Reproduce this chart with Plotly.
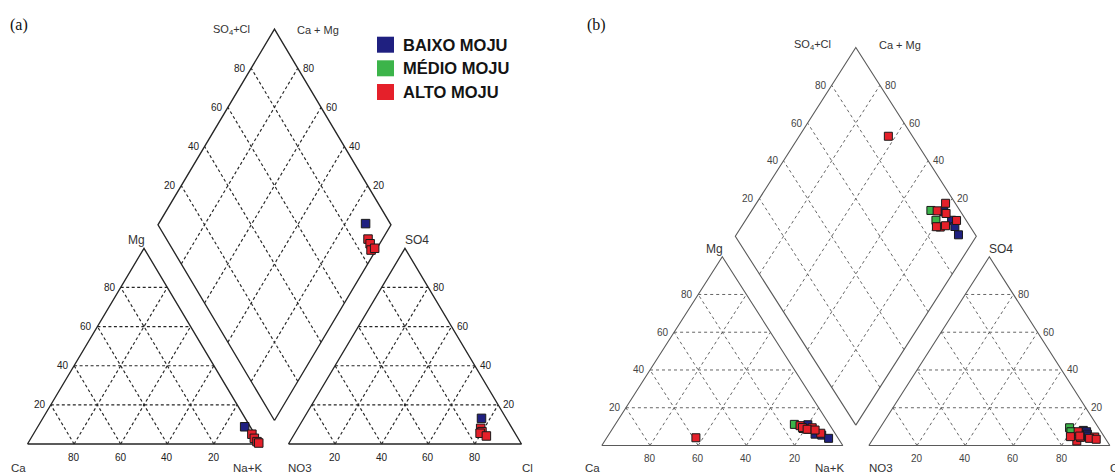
import numpy as np
import plotly.graph_objects as go

H = np.sqrt(3) / 2
TICKS = [20, 40, 60, 80]

# ---------------- sample compositions (% meq/L) ----------------
# cations as (Ca, Mg, Na+K); anions as (NO3, SO4, Cl)

# (a)
a_baixo_cations = [(2.4, 8.8, 88.8)]
a_baixo_anions = [(10.6, 13.1, 76.3)]
a_alto_cations = [(1.2, 5.0, 93.8), (1.2, 2.9, 95.9), (0.9, 1.2, 97.9), (0.5, 0.5, 99.0)]
a_alto_anions = [(13.5, 8.0, 78.5), (13.8, 6.3, 79.9), (15.0, 5.5, 79.5), (13.0, 4.1, 82.9)]

# (b)
b_baixo_cations = [(9.0, 11.0, 80.0), (8.5, 6.0, 85.5), (6.0, 5.5, 88.5), (4.0, 3.8, 92.2)]
b_baixo_anions = [(7.0, 8.0, 85.0), (6.0, 7.3, 86.7), (6.3, 6.0, 87.7), (7.0, 5.0, 88.0)]
b_medio_cations = [(14.5, 11.2, 74.3), (12.0, 9.0, 79.0)]
b_medio_anions = [(12.0, 9.4, 78.6), (12.5, 7.3, 80.2)]
b_alto_cations = [(12.5, 10.5, 77.0), (12.0, 9.5, 78.5), (10.0, 8.6, 81.4), (5.9, 6.5, 87.6),
                  (8.0, 9.4, 82.6), (10.5, 8.6, 80.9), (7.4, 8.2, 84.4), (58.9, 4.1, 37.0)]
b_alto_anions = [(9.5, 7.3, 83.2), (4.0, 4.5, 91.5), (6.5, 3.8, 89.7), (4.0, 3.3, 92.7),
                 (12.5, 2.4, 85.1), (14.0, 4.7, 81.3), (10.0, 4.3, 85.7), (10.0, 5.0, 85.0)]

GROUPS = ["BAIXO MOJU", "MÉDIO MOJU", "ALTO MOJU"]
GROUP_COLORS = ["#1f2080", "#3cb44a", "#e5202a"]

# ---------------- Piper geometry ----------------
def cation_xy(ca, mg, nak):
    t = ca + mg + nak
    return (nak + mg / 2) / t, H * mg / t


def anion_xy(no3, so4, cl, gap):
    t = no3 + so4 + cl
    return 1 + gap + (cl + so4 / 2) / t, H * so4 / t


def diamond_xy(camg, so4cl, gap):
    c, s = camg / 100, so4cl / 100
    return 1 + gap / 2 + (s - c) / 2, gap * H + H * (s + c)


W, HT = 1115, 475
PANELS = {
    "a": dict(ox=27.5, oy=444.0, sx=233.0, sy=226.0, gap=0.12, dom=(0.0, 0.5),
              line="#262626", lw=1.35, grid="#262626", gw=1.15, dash="3px,2.5px",
              tick="#222222", msize=8.5, label="(a)", lab_x=19, base_shift=-24, top_shift=-1,
              samples=[(0, a_baixo_cations, a_baixo_anions),
                       (2, a_alto_cations, a_alto_anions)]),
    "b": dict(ox=601.8, oy=445.5, sx=241.0, sy=218.0, gap=0.108, dom=(0.5, 1.0),
              line="#5a5a5a", lw=1.1, grid="#555555", gw=0.9, dash="3px,3px",
              tick="#444444", msize=8, label="(b)", lab_x=596, base_shift=-22.5, top_shift=3,
              samples=[(0, b_baixo_cations, b_baixo_anions),
                       (1, b_medio_cations, b_medio_anions),
                       (2, b_alto_cations, b_alto_anions)]),
}

fig = go.Figure()
annotations = []
layout_axes = {}

for i, (key, p) in enumerate(PANELS.items()):
    xa, ya = ("x", "y") if i == 0 else ("x2", "y2")
    g = p["gap"]

    outline_x, outline_y, grid_x, grid_y = [], [], [], []

    def seg(xs, ys, pts):
        for pt in pts:
            xs.append(pt[0])
            ys.append(pt[1])
        xs.append(None)
        ys.append(None)

    # cation triangle
    seg(outline_x, outline_y, [cation_xy(100, 0, 0), cation_xy(0, 0, 100),
                               cation_xy(0, 100, 0), cation_xy(100, 0, 0)])
    # anion triangle
    seg(outline_x, outline_y, [anion_xy(100, 0, 0, g), anion_xy(0, 0, 100, g),
                               anion_xy(0, 100, 0, g), anion_xy(100, 0, 0, g)])
    # diamond
    seg(outline_x, outline_y, [diamond_xy(0, 0, g), diamond_xy(0, 100, g),
                               diamond_xy(100, 100, g), diamond_xy(100, 0, g),
                               diamond_xy(0, 0, g)])

    for t in TICKS:
        r = 100 - t
        # cation grid
        seg(grid_x, grid_y, [cation_xy(r, t, 0), cation_xy(0, t, r)])
        seg(grid_x, grid_y, [cation_xy(r, 0, t), cation_xy(0, r, t)])
        seg(grid_x, grid_y, [cation_xy(t, 0, r), cation_xy(t, r, 0)])
        # anion grid
        seg(grid_x, grid_y, [anion_xy(r, t, 0, g), anion_xy(0, t, r, g)])
        seg(grid_x, grid_y, [anion_xy(r, 0, t, g), anion_xy(0, r, t, g)])
        seg(grid_x, grid_y, [anion_xy(t, 0, r, g), anion_xy(t, r, 0, g)])
        # diamond grid
        seg(grid_x, grid_y, [diamond_xy(t, 0, g), diamond_xy(t, 100, g)])
        seg(grid_x, grid_y, [diamond_xy(0, t, g), diamond_xy(100, t, g)])

    fig.add_trace(go.Scatter(x=grid_x, y=grid_y, mode="lines", xaxis=xa, yaxis=ya,
                             line=dict(color=p["grid"], width=p["gw"], dash=p["dash"]),
                             hoverinfo="skip", showlegend=False))
    fig.add_trace(go.Scatter(x=outline_x, y=outline_y, mode="lines", xaxis=xa, yaxis=ya,
                             line=dict(color=p["line"], width=p["lw"]),
                             hoverinfo="skip", showlegend=False))

    # samples
    for gi, cats, ans in p["samples"]:
        px, py = [], []
        for (ca, mg, nak), (no3, so4, cl) in zip(cats, ans):
            for pt in (cation_xy(ca, mg, nak), anion_xy(no3, so4, cl, g),
                       diamond_xy(100 * (ca + mg) / (ca + mg + nak),
                                  100 * (so4 + cl) / (no3 + so4 + cl), g)):
                px.append(pt[0])
                py.append(pt[1])
        fig.add_trace(go.Scatter(x=px, y=py, mode="markers", xaxis=xa, yaxis=ya,
                                 name=GROUPS[gi], showlegend=False,
                                 marker=dict(symbol="square", size=p["msize"],
                                             color=GROUP_COLORS[gi],
                                             line=dict(color="#1a1a1a", width=1))))

    # tick labels
    tfont = dict(family="Liberation Sans, Arial, sans-serif", size=10, color=p["tick"])

    def ann(pt, text, xanchor="center", yanchor="middle", xshift=0, yshift=0, font=tfont):
        annotations.append(dict(x=pt[0], y=pt[1], xref=xa, yref=ya, text=text,
                                showarrow=False, xanchor=xanchor, yanchor=yanchor,
                                xshift=xshift, yshift=yshift, font=font))

    for t in TICKS:
        r = 100 - t
        ann(cation_xy(t, 0, r), str(t), yshift=-13)
        ann(cation_xy(r, t, 0), str(t), xanchor="right", xshift=-3)
        ann(anion_xy(r, 0, t, g), str(t), yshift=-13)
        ann(anion_xy(0, t, r, g), str(t), xanchor="left", xshift=3)
        ann(diamond_xy(100, t, g), str(t), xanchor="right", xshift=-3)
        ann(diamond_xy(t, 100, g), str(t), xanchor="left", xshift=3)

    lfont = dict(family="Liberation Sans, Arial, sans-serif", size=12, color="#333333")
    bfont = dict(family="Liberation Sans, Arial, sans-serif", size=11.5, color="#333333")
    sfont = dict(family="Liberation Sans, Arial, sans-serif", size=11, color="#333333")
    top = diamond_xy(100, 100, g)
    bs = p["base_shift"]
    ann(top, "SO<sub>4</sub>+Cl", xshift=-43, yshift=p["top_shift"], font=sfont)
    ann(top, "Ca + Mg", xshift=44, yshift=p["top_shift"], font=sfont)
    ann(cation_xy(0, 100, 0), "Mg", xshift=-8, yshift=8, font=lfont)
    ann(anion_xy(0, 100, 0, g), "SO4", xshift=12, yshift=8, font=lfont)
    ann(cation_xy(100, 0, 0), "Ca", xshift=-9, yshift=bs, font=bfont)
    ann(cation_xy(0, 0, 100), "Na+K", xshift=-13, yshift=bs, font=bfont)
    ann(anion_xy(100, 0, 0, g), "NO3", xshift=12, yshift=bs, font=bfont)
    ann(anion_xy(0, 0, 100, g), "Cl", xshift=6, yshift=bs, font=bfont)

    # panel tag
    annotations.append(dict(x=p["lab_x"] / W, y=1 - 25 / HT, xref="paper", yref="paper",
                            text=p["label"], showarrow=False, xanchor="center",
                            yanchor="middle",
                            font=dict(family="Liberation Serif, Times New Roman, serif",
                                      size=16, color="#111111")))

    d0, d1 = p["dom"]
    xr = [(d0 * W - p["ox"]) / p["sx"], (d1 * W - p["ox"]) / p["sx"]]
    yr = [(p["oy"] - HT) / p["sy"], p["oy"] / p["sy"]]
    sfx = "" if i == 0 else "2"
    layout_axes["xaxis" + sfx] = dict(domain=[d0, d1], range=xr, visible=False, fixedrange=True)
    layout_axes["yaxis" + sfx] = dict(domain=[0, 1], range=yr, visible=False, fixedrange=True)
    if i == 1:
        layout_axes["xaxis2"]["anchor"] = "y2"
        layout_axes["yaxis2"]["anchor"] = "x2"

# legend box for the sampling sectors
shapes = []
LEG_X0, LEG_SQ = 377.0, 17.0
LEG_ROWS = [44.7, 68.3, 92.0]
for gi, yc in enumerate(LEG_ROWS):
    shapes.append(dict(type="rect", xref="paper", yref="paper",
                       x0=LEG_X0 / W, x1=(LEG_X0 + LEG_SQ) / W,
                       y0=1 - (yc + 8) / HT, y1=1 - (yc - 8) / HT,
                       fillcolor=GROUP_COLORS[gi], line=dict(width=0)))
    annotations.append(dict(x=400.5 / W, y=1 - yc / HT, xref="paper", yref="paper",
                            text="<b>%s</b>" % GROUPS[gi], showarrow=False,
                            xanchor="left", yanchor="middle",
                            font=dict(family="Liberation Sans, Arial, sans-serif",
                                      size=16.5, color="#141414")))

fig.update_layout(width=W, height=HT, margin=dict(l=0, r=0, t=0, b=0),
                  paper_bgcolor="white", plot_bgcolor="white",
                  annotations=annotations, shapes=shapes, showlegend=False,
                  **layout_axes)

fig.write_html("out.html")
